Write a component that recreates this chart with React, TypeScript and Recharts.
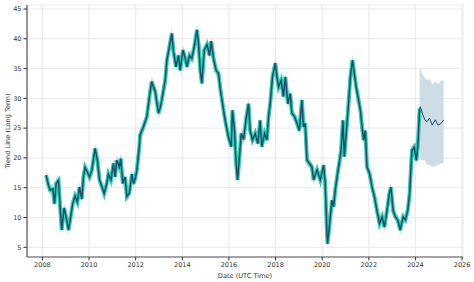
import { ComposedChart, Line, Area, XAxis, YAxis, CartesianGrid } from "recharts"

// historical trend (decimal year, value)
const histYears = [
  2008.16, 2008.26, 2008.33, 2008.45, 2008.52, 2008.59, 2008.69, 2008.76, 2008.83, 2008.93,
  2009.02, 2009.12, 2009.19, 2009.3, 2009.4, 2009.5, 2009.59, 2009.69, 2009.76, 2009.83,
  2009.93, 2010.02, 2010.12, 2010.26, 2010.36, 2010.45, 2010.55, 2010.65, 2010.76, 2010.83,
  2010.94, 2011.05, 2011.12, 2011.19, 2011.3, 2011.36, 2011.45, 2011.55, 2011.62, 2011.73,
  2011.84, 2011.91, 2011.98, 2012.05, 2012.16, 2012.19, 2012.33, 2012.48, 2012.62, 2012.69,
  2012.84, 2012.98, 2013.05, 2013.12, 2013.27, 2013.34, 2013.45, 2013.55, 2013.62, 2013.73,
  2013.84, 2013.91, 2014.03, 2014.12, 2014.2, 2014.31, 2014.41, 2014.51, 2014.63, 2014.7,
  2014.77, 2014.84, 2014.94, 2015.06, 2015.17, 2015.24, 2015.34, 2015.45, 2015.55, 2015.66,
  2015.77, 2015.84, 2015.98, 2016.1, 2016.15, 2016.24, 2016.3, 2016.37, 2016.44, 2016.53,
  2016.63, 2016.73, 2016.84, 2016.91, 2017.01, 2017.13, 2017.24, 2017.34, 2017.41, 2017.53,
  2017.63, 2017.7, 2017.77, 2017.87, 2017.99, 2018.06, 2018.13, 2018.24, 2018.34, 2018.42,
  2018.53, 2018.63, 2018.7, 2018.82, 2018.92, 2019.02, 2019.13, 2019.2, 2019.27, 2019.35,
  2019.45, 2019.56, 2019.63, 2019.78, 2019.92, 2020.06, 2020.13, 2020.2, 2020.23, 2020.32,
  2020.42, 2020.49, 2020.56, 2020.66, 2020.75, 2020.81, 2020.89, 2020.95, 2021.03, 2021.13,
  2021.21, 2021.3, 2021.38, 2021.46, 2021.56, 2021.64, 2021.71, 2021.78, 2021.85, 2021.92,
  2022.03, 2022.14, 2022.24, 2022.35, 2022.46, 2022.57, 2022.67, 2022.78, 2022.88, 2022.95,
  2023.04, 2023.14, 2023.24, 2023.35, 2023.47, 2023.57, 2023.67, 2023.75, 2023.85, 2023.95,
  2024.04, 2024.1, 2024.18,
]
const histValues = [
  17.1, 15.4, 14.6, 14.8, 12.3, 15.7, 16.2, 11.8, 7.9, 11.6,
  10.1, 7.9, 9.5, 12.3, 13.6, 12.6, 15.1, 13.1, 16.8, 18.4,
  17.6, 16.8, 17.9, 21.6, 19.6, 16.3, 15.2, 14.0, 15.7, 17.3,
  16.3, 19.1, 16.8, 19.6, 18.5, 19.9, 15.7, 16.8, 13.5, 14.1,
  17.3, 15.7, 16.5, 17.9, 22.0, 23.8, 25.2, 26.9, 31.1, 32.8,
  31.1, 27.5, 28.4, 29.7, 33.1, 36.4, 38.7, 40.9, 37.9, 35.3,
  37.2, 34.7, 38.1, 36.8, 35.3, 37.2, 36.7, 38.6, 41.5, 39.0,
  34.7, 32.5, 38.1, 39.0, 37.2, 39.6, 36.7, 34.7, 34.2, 30.8,
  28.0, 26.3, 23.5, 21.9, 28.0, 24.6, 19.6, 16.3, 19.6, 24.1,
  23.1, 26.3, 29.1, 24.6, 23.0, 24.1, 22.4, 26.3, 21.9, 24.1,
  23.0, 26.9, 29.1, 33.6, 35.9, 33.6, 31.9, 33.0, 30.3, 33.6,
  29.1, 30.8, 27.5, 26.9, 25.8, 24.6, 29.7, 25.2, 25.8, 19.6,
  19.1, 18.5, 16.3, 18.0, 16.3, 18.8, 15.7, 7.9, 5.6, 9.0,
  12.9, 11.8, 14.6, 17.4, 19.6, 21.3, 26.3, 20.2, 24.1, 29.1,
  33.6, 36.4, 34.1, 31.9, 29.7, 28.0, 25.2, 23.0, 24.6, 18.5,
  17.4, 15.1, 13.5, 11.2, 9.0, 10.1, 8.4, 11.2, 14.0, 15.1,
  11.2, 10.1, 9.6, 7.9, 10.1, 9.6, 11.2, 14.0, 21.3, 21.8,
  19.6, 21.9, 28.3,
]

// forecast with uncertainty interval
const fcYears = [2024.18, 2024.21, 2024.3, 2024.4, 2024.5, 2024.6, 2024.72, 2024.85, 2024.97, 2025.1, 2025.21]
const fcValues = [28.3, 28.6, 27.5, 26.4, 26.1, 26.7, 25.5, 26.4, 25.5, 25.8, 26.4]
const fcLower = [20.5, 19.8, 19.6, 19.6, 18.9, 18.8, 18.5, 18.6, 18.9, 19.0, 19.3]
const fcUpper = [35.0, 35.0, 34.0, 33.4, 33.1, 33.3, 32.3, 32.8, 32.4, 33.0, 33.1]

const xTicks = [2008, 2010, 2012, 2014, 2016, 2018, 2020, 2022, 2024, 2026]
const yTicks = [5, 10, 15, 20, 25, 30, 35, 40, 45]

const histData = histYears.map((t, i) => ({
  t,
  v: histValues[i],
  band: [histValues[i] - 0.9, histValues[i] + 0.9],
}))
const fcData = fcYears.map((t, i) => ({ t, v: fcValues[i], band: [fcLower[i], fcUpper[i]] }))

const font = "DejaVu Sans, sans-serif"
const tick = { fontSize: 6.5, fill: "#333", fontFamily: font }

export default function App() {
  return (
    <div style={{ position: "absolute", left: 0, top: 0, background: "#fff" }}>
      <ComposedChart width={474} height={282} margin={{ top: 5, right: 11, bottom: 0, left: 0 }}>
        <CartesianGrid xAxisId="b" yAxisId="l" stroke="#e3e3e3" strokeWidth={0.8} />
        <XAxis
          xAxisId="b"
          type="number"
          dataKey="t"
          domain={[2007.34, 2026.04]}
          ticks={xTicks}
          allowDuplicatedCategory={false}
          height={25}
          tick={tick}
          tickSize={3.5}
          tickLine={{ stroke: "#333" }}
          axisLine={{ stroke: "#888", strokeWidth: 1.5 }}
          label={{ value: "Date (UTC Time)", position: "insideBottom", offset: 4, style: { fontSize: 6.6, fill: "#333", fontFamily: font } }}
        />
        <XAxis xAxisId="top" orientation="top" type="number" domain={[0, 1]} height={0} tick={false} tickLine={false} axisLine={{ stroke: "#999", strokeWidth: 1.5 }} />
        <YAxis
          yAxisId="l"
          type="number"
          domain={[3.37, 45.67]}
          ticks={yTicks}
          width={27}
          tick={tick}
          tickSize={3.5}
          tickLine={{ stroke: "#333" }}
          axisLine={{ stroke: "#555", strokeWidth: 1.2 }}
          label={{ value: "Trend Line (Long Term)", angle: -90, position: "insideLeft", offset: 8, style: { fontSize: 6.6, fill: "#333", fontFamily: font, textAnchor: "middle" } }}
        />
        <YAxis yAxisId="r" orientation="right" type="number" domain={[0, 1]} width={0} tick={false} tickLine={false} axisLine={{ stroke: "#999", strokeWidth: 1.5 }} />
        <Area xAxisId="b" yAxisId="l" data={fcData} dataKey="band" type="linear" stroke="none" fill="#c9d8e3" fillOpacity={0.9} isAnimationActive={false} />
        <Area xAxisId="b" yAxisId="l" data={histData} dataKey="band" type="linear" stroke="none" fill="#b9cbd6" fillOpacity={0.7} isAnimationActive={false} />
        <Line xAxisId="b" yAxisId="l" data={histData} dataKey="v" type="linear" stroke="#34ccb0" strokeWidth={4} dot={false} isAnimationActive={false} />
        <Line xAxisId="b" yAxisId="l" data={histData} dataKey="v" type="linear" stroke="#17506f" strokeWidth={1.5} dot={false} isAnimationActive={false} />
        <Line xAxisId="b" yAxisId="l" data={fcData} dataKey="v" type="linear" stroke="#1b4f72" strokeWidth={1} dot={false} isAnimationActive={false} />
      </ComposedChart>
    </div>
  )
}
